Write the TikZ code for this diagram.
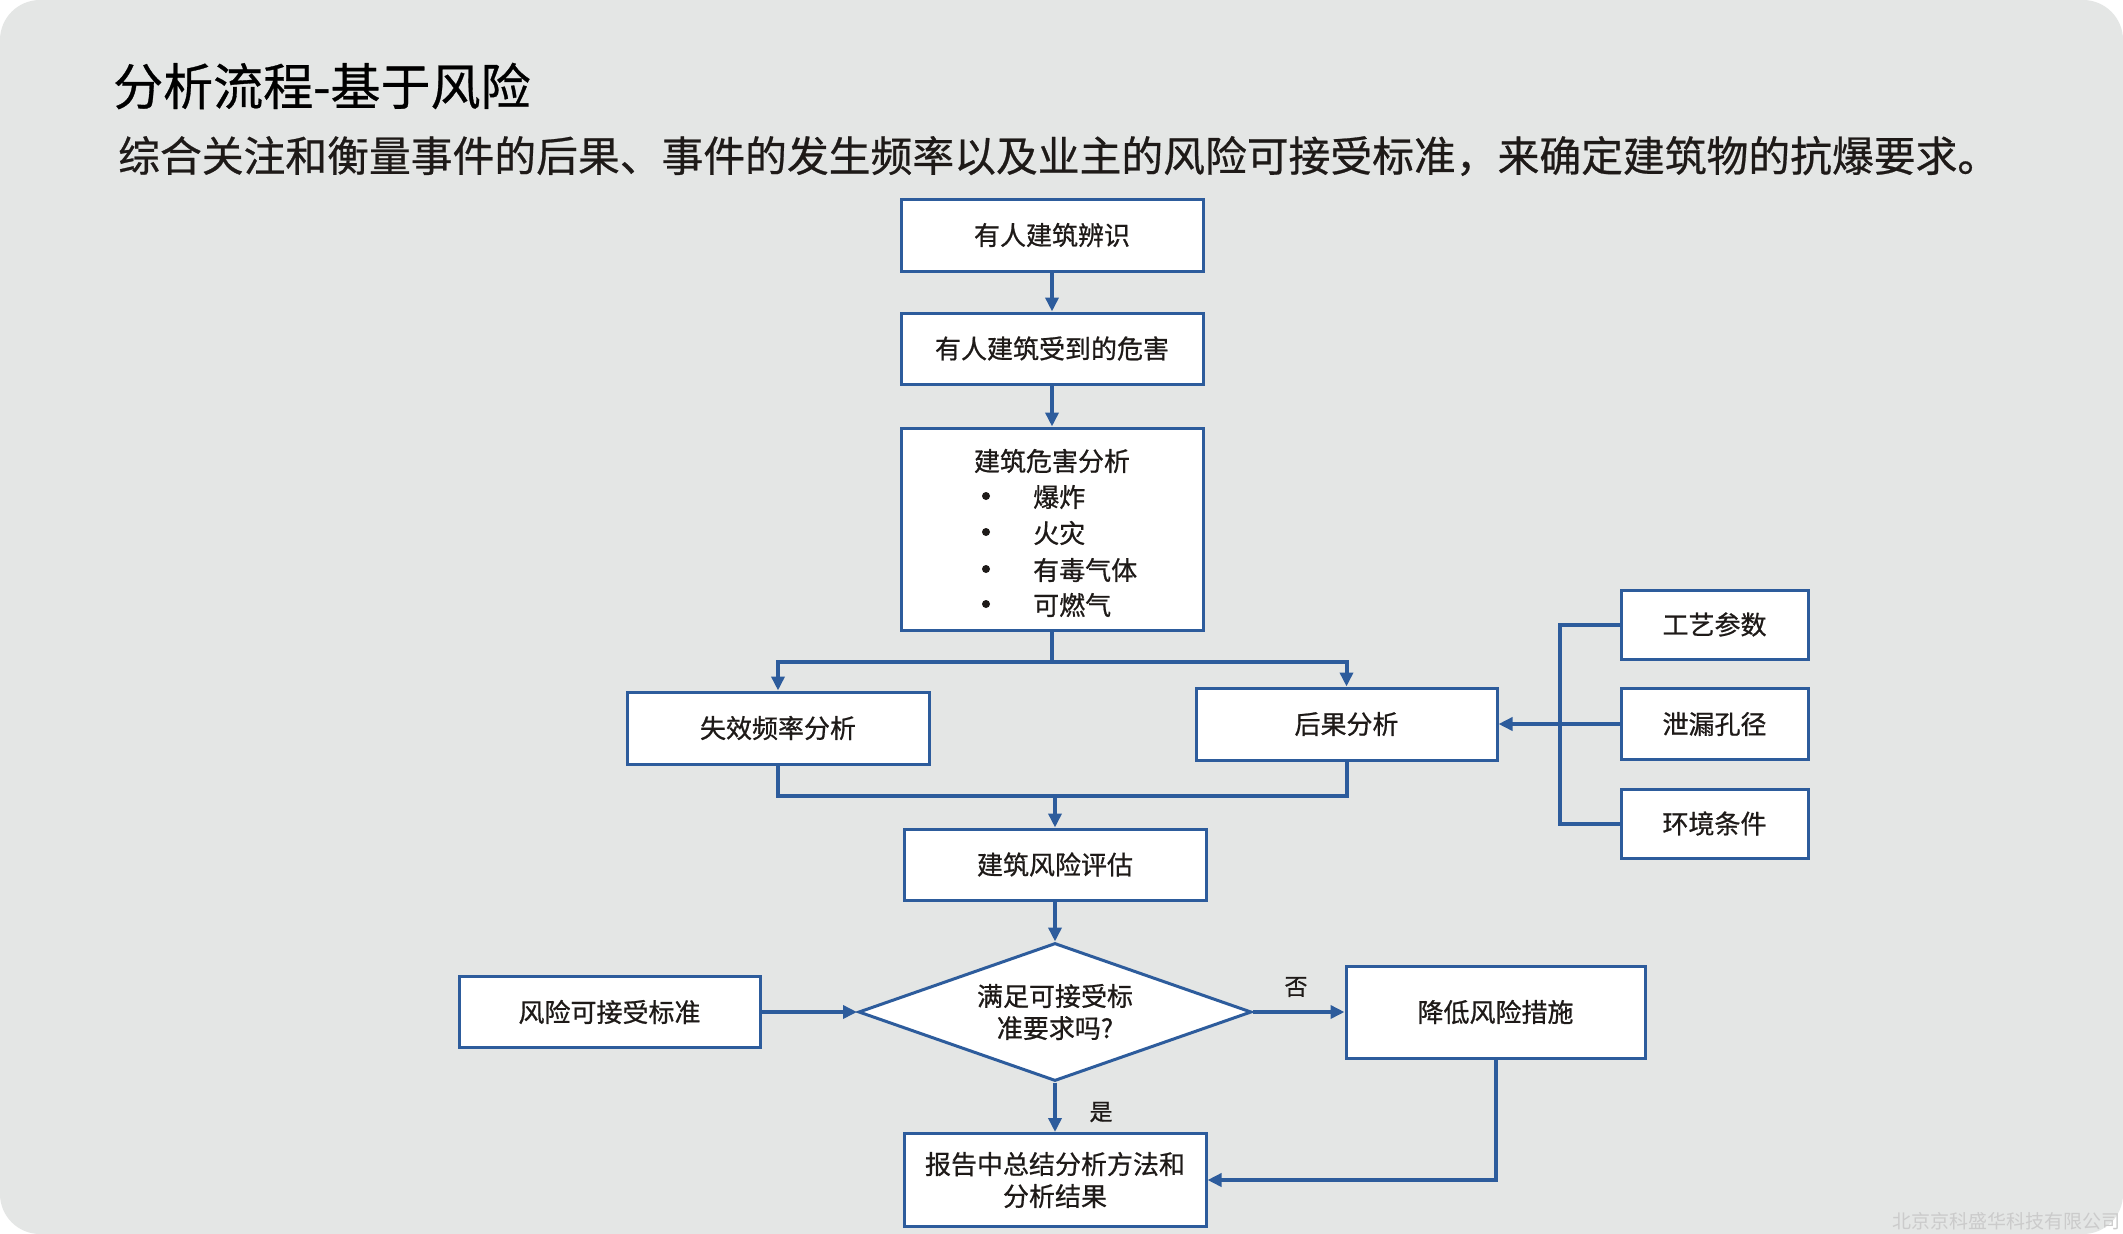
\documentclass[tikz,border=0pt]{standalone}
\usepackage{fontspec}
\setmainfont{Noto Sans CJK SC}
\newfontfamily\boxfont{Noto Sans CJK SC}[FakeBold=0.8]
\newfontfamily\headfont{Noto Sans CJK SC}[FakeBold=0.6]
\usetikzlibrary{arrows.meta,shapes.geometric}
\definecolor{bggray}{HTML}{E4E6E5}
\definecolor{lineblue}{HTML}{2D5C9C}
\definecolor{txt}{HTML}{1E1A18}
\definecolor{wm}{HTML}{CBCBCB}
\tikzset{
  box/.style={draw=lineblue, line width=3pt, fill=white, inner sep=0pt,
    text=txt, font=\boxfont\fontsize{26}{32}\selectfont, align=center},
  conn/.style={draw=lineblue, line width=4pt, -{Triangle[length=14pt,width=13pt]}},
  plain/.style={draw=lineblue, line width=4pt},
  lbl/.style={text=txt, font=\boxfont\fontsize{23}{28}\selectfont, inner sep=0pt},
  item/.style={text=txt, font=\boxfont\fontsize{26}{32}\selectfont, inner sep=0pt},
  dot/.style={circle, fill=txt, inner sep=0pt, minimum size=8pt},
}
\begin{document}
\begin{tikzpicture}[x=1pt,y=-1pt]
\useasboundingbox (0,0) rectangle (2123,1234);
\fill[white] (0,0) rectangle (2123,1234);
\fill[bggray, rounded corners=40pt] (0,0) rectangle (2123,1234);

% title
\node[anchor=west, inner sep=0pt, text=black, font=\headfont\fontsize{50}{58}\selectfont] (title) at (113,86) {分析流程-基于风险};
\node[anchor=west, inner sep=0pt, text=txt, font=\headfont\fontsize{41.8}{48}\selectfont] (sub) at (118,156) {综合关注和衡量事件的后果、事件的发生频率以及业主的风险可接受标准，来确定建筑物的抗爆要求。};

% boxes
\node[box, minimum width=302pt, minimum height=72pt] (B1) at (1052,235) {\raisebox{-4pt}{有人建筑辨识}};
\node[box, minimum width=302pt, minimum height=71pt] (B2) at (1052,348.5) {\raisebox{-4pt}{有人建筑受到的危害}};
\node[box, minimum width=302pt, minimum height=202pt] (B3) at (1052,529) {};
\node[item] (B3t) at (1052,461) {建筑危害分析};
\node[dot] (b1) at (986,496) {};
\node[dot] (b2) at (986,532) {};
\node[dot] (b3) at (986,569) {};
\node[dot] (b4) at (986,604) {};
\node[item, anchor=west] (i1) at (1033,497) {爆炸};
\node[item, anchor=west] (i2) at (1033,533) {火灾};
\node[item, anchor=west] (i3) at (1033,570) {有毒气体};
\node[item, anchor=west] (i4) at (1033,605) {可燃气};

\node[box, minimum width=302pt, minimum height=72pt] (B4) at (778,728) {\raisebox{-4pt}{失效频率分析}};
\node[box, minimum width=301pt, minimum height=72pt] (B5) at (1346.5,724) {\raisebox{-4pt}{后果分析}};
\node[box, minimum width=302pt, minimum height=71pt] (B6) at (1055,864.5) {\raisebox{-4pt}{建筑风险评估}};

\node[box, minimum width=187pt, minimum height=69pt] (R1) at (1714.5,624.5) {\raisebox{-4pt}{工艺参数}};
\node[box, minimum width=187pt, minimum height=71pt] (R2) at (1714.5,724) {\raisebox{-4pt}{泄漏孔径}};
\node[box, minimum width=187pt, minimum height=69pt] (R3) at (1714.5,823.5) {\raisebox{-4pt}{环境条件}};

\node[box, shape=diamond, shape aspect=2.85, minimum width=393pt, minimum height=138pt, inner sep=0pt] (D) at (1055,1012) {满足可接受标\\准要求吗?};

\node[box, minimum width=301pt, minimum height=71pt] (B7) at (609.5,1012) {\raisebox{-4pt}{风险可接受标准}};
\node[box, minimum width=299pt, minimum height=92pt] (B8) at (1495.5,1012) {\raisebox{-4pt}{降低风险措施}};
\node[box, minimum width=302pt, minimum height=93pt] (B9) at (1055,1180) {报告中总结分析方法和\\分析结果};

% connectors
\draw[conn] (B1.south) -- (B2.north);
\draw[conn] (B2.south) -- (B3.north);
\coordinate (split) at (1052,662);
\draw[plain] (B3.south) -- (split);
\draw[conn] (split) -| (B4.north);
\draw[conn] (split) -| (B5.north);

\coordinate (merge) at (1055,796);
\draw[plain] (B4.south) |- (merge);
\draw[plain] (B5.south) |- (merge);
\draw[conn] (merge) -- (B6.north);

\coordinate (rb1) at (1560,624.5);
\coordinate (rb3) at (1560,823.5);
\draw[plain] (R1.west) -- (rb1) -- (rb3) -- (R3.west);
\draw[conn] (R2.west) -- (B5.east);

\draw[conn] (B6.south) -- (D.north);
\draw[conn] (B7.east) -- (D.west);
\draw[conn] (D.east) -- (B8.west);
\draw[conn] (D.south) -- (B9.north);
\draw[conn] (B8.south) |- (B9.east);

\node[lbl] (no) at (1296,987) {否};
\node[lbl] (yes) at (1101,1112) {是};

% watermark
\node[anchor=east, inner sep=0pt, text=wm, font=\fontsize{19}{22}\selectfont] (wmk) at (2121,1221) {北京京科盛华科技有限公司};
\end{tikzpicture}
\end{document}
